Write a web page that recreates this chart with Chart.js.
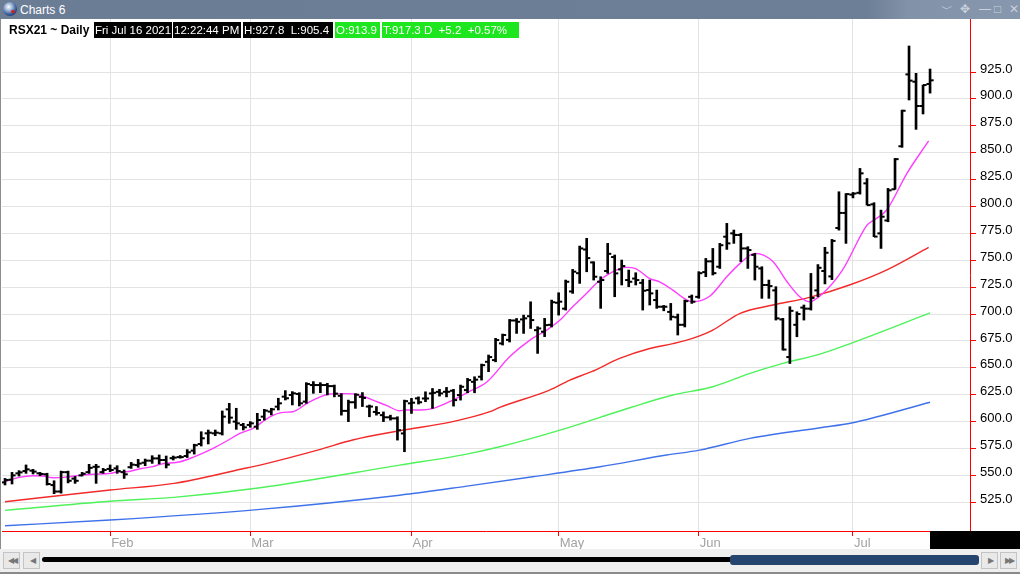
<!DOCTYPE html>
<html><head><meta charset="utf-8">
<script src="https://cdn.jsdelivr.net/npm/chart.js@4.4.1/dist/chart.umd.min.js"></script>
<style>
html,body{margin:0;padding:0;background:#fff;}
body{width:1020px;height:574px;position:relative;overflow:hidden;font-family:"Liberation Sans",Arial,sans-serif;}
#titlebar{position:absolute;left:0;top:0;width:1020px;height:19px;background:linear-gradient(90deg,#6b7c95 0%,#6d7e97 85%,#8292a8 89%,#8797ad 100%);}
#icon{position:absolute;left:3px;top:2px;width:14px;height:14px;border-radius:50%;background:radial-gradient(circle at 40% 35%,#ffffff 0%,#9bb3d6 30%,#2a4f8c 65%,#1b2a4a 100%);}
#icon:after{content:"";position:absolute;left:8px;top:8px;width:4px;height:3px;background:#d02020;border-radius:2px;}
#ttl{position:absolute;left:20px;top:3px;color:#fff;font-size:12px;line-height:14px;}
.wi{position:absolute;top:2px;color:#c9d1dc;font-size:12px;line-height:14px;}
#wrap{position:absolute;left:2px;top:19px;width:1018px;height:530px;}
#lborder{position:absolute;left:0;top:19px;width:1px;height:555px;background:#8c8c8c;}
.hd{position:absolute;top:22px;height:16px;line-height:16px;font-size:11.5px;white-space:pre;color:#fff;padding-left:1px;box-sizing:border-box;overflow:hidden;}
.blk{background:#000;}
.grn{background:#1ee61e;}
#sym{position:absolute;left:9px;top:22px;height:16px;line-height:16px;font-size:12px;font-weight:bold;color:#000;white-space:pre;}
#blackbox{position:absolute;left:930px;top:531px;width:90px;height:18px;background:#000;}
#sb{position:absolute;left:0;top:549px;width:1020px;height:23px;background:#efefef;}
#sbline{position:absolute;left:0;top:572px;width:1020px;height:2px;background:#8a8a8a;}
.btn{position:absolute;top:552px;width:17px;height:17px;border:1px solid #c4c4c4;background:#e9e9e9;box-sizing:border-box;color:#777;font-size:8px;line-height:15px;text-align:center;letter-spacing:-2px;}
#track{position:absolute;left:42px;top:557px;width:690px;height:5px;background:#000;border-radius:3px;}
#thumb{position:absolute;left:730px;top:555px;width:249px;height:10px;background:#26456e;border-radius:3px;}
</style></head><body>
<div id="titlebar"><div id="icon"></div><div id="ttl">Charts 6</div>
<div class="wi" style="left:941px;">&#xFE40;</div>
<div class="wi" style="left:960px;">&#x2725;</div>
<div class="wi" style="left:979px;">&#x2014;</div>
<div class="wi" style="left:994px;">&#x25A1;</div>
<div class="wi" style="left:1009px;">&#x2715;</div>
</div>
<div id="wrap"><canvas id="c" width="1018" height="530"></canvas></div>
<div id="lborder"></div>
<div id="sym">RSX21 ~ Daily</div>
<div class="hd blk" style="left:94px;width:78px;">Fri Jul 16 2021</div>
<div class="hd blk" style="left:173px;width:68px;">12:22:44 PM</div>
<div class="hd blk" style="left:243px;width:90px;">H:927.8  L:905.4</div>
<div class="hd grn" style="left:335px;width:45px;">O:913.9</div>
<div class="hd grn" style="left:382px;width:137px;">T:917.3 D  +5.2  +0.57%</div>
<div id="blackbox"></div>
<div id="sb"></div>
<div id="sbline"></div>
<div class="btn" style="left:3px;">&#9664;&#9664;</div>
<div class="btn" style="left:23px;">&#9664;</div>
<div id="track"></div>
<div id="thumb"></div>
<div class="btn" style="left:981px;">&#9654;</div>
<div class="btn" style="left:1000px;">&#9654;&#9654;</div>
<script>
// ---- data ----
const monthLabels = ['Feb','Mar','Apr','May','Jun','Jul'];
const monthStartIdx = [15,35,58,79,99,121];
const yTickValues = [525,550,575,600,625,650,675,700,725,750,775,800,825,850,875,900,925];

const opens = [543.5,546,551.9,554,554.4,551.9,551,541,535,553,547,550,553,558,553,556,556.5,553,557.6,559.6,561.8,563.7,565.8,564.3,
566,567,568,573,579.2,589.1,589.1,589.1,611.4,600,596.9,596.9,595.3,604.6,609.3,613.9,623.2,624.8,625.7,618.6,634,634,634,
633,624,610,618,623,614,609,606,604,603,589,617,621.6,621.5,626.2,627.7,627.7,628.7,624.7,629.3,637,641.7,655.6,
657.2,672.7,676,694,695,698,685,683.6,690,710.5,705,721,738,760,748,730,740,753,741.5,731.6,733,729,722.3,
713,706.8,702,697,690,716,716,739,749,744,771.9,775,773.5,761,755,742.4,727,722,695,660,690,706,705,
722,740,735,780,794,811,812.7,821.5,802,775,787,816,856,922.8,916,893.4,913.9];
const highs = [547.2,552.8,554.4,559.7,555.6,552.8,552,545,554,554,549,552.8,560.3,560.3,556.5,559.7,559,555,562.1,564.9,565.2,568.3,569,568,
568,568.5,574,579,590.6,592.2,592.2,609.9,617,612.4,598.4,600,607.7,611.4,612.4,621.7,628.8,627.9,626.9,636.2,637.2,636.2,635.6,
634,626,620,626,627,615.4,614,609,606,604.5,620,621.6,623,627.7,630.8,630,631.8,630,634,640.2,641.7,653.5,661.9,
677.4,681.4,695,695.9,699,711.4,688.2,696,713,719.8,731.6,741.5,763.2,770.4,748.6,734.7,765.7,754.9,750.2,740.9,738.4,732.2,731.6,
722.3,708,709.9,700,713,717.7,739.4,751.7,761,765.7,784.3,778.1,775,762.6,756.4,744,731.6,725.4,696,706.8,702.1,708.4,737.8,
746,762,769.4,813.7,812,813,835.4,826,803.5,796.6,816.8,844.7,889.6,949.2,923.8,912.9,927.8];
const lows = [541.1,542,549.4,551.9,551.3,549.7,541,533,533.5,543,542.6,549.4,551.9,542.6,551.9,553.5,551.9,547.2,556.5,557.5,559,561.2,560.6,556.9,
564.3,566,566.6,569.8,577.3,579.2,586.9,587.5,598.4,592.8,592.2,594.7,592.8,601.5,606.2,610.8,620.1,615.5,614.5,617,626.3,626.9,624.8,
623,606,600,612.3,614,604.5,606,600,601.4,582.8,572,607.6,616.3,618.5,612.3,623.7,623,614.4,620,626.8,626.8,638.6,646.4,
655.6,671.2,674,682,682,686.6,663.4,679,688,699,703.7,719.2,728.5,739.3,731.6,705.3,737.8,716.1,727,725.4,727,703.7,708.4,
705.3,703,694.4,680.5,688,709.9,714.6,734.7,736.3,742.4,760.1,765.7,748.7,742.4,731.6,714.6,714.6,694.4,666.5,654,678.9,694.4,703.7,
716,728,732,778,765.7,808,811.5,801.3,771.9,761,785.8,815.9,855,899,871.7,886,905.4];
const closes = [545.7,550,552.8,555.6,553.5,551.3,542,535,553,545,545,551.5,557,558,555,555,554,551,560,561,563.7,565.8,564.3,560,
566.5,567,571.5,578,584.5,589.7,589.7,604.6,603.7,598.4,594.7,598.4,601.5,610.2,611.4,617,621.7,626.3,617,635,634,634,633,
626,610,618,625,622,614,608,604,603,592,619,617.6,618,621.5,626.8,626.2,627.7,620,632.4,638.6,639,652.5,660,
675.8,680.5,694,692.8,696,694.4,686.6,689.7,711,711.5,730,739.4,761,752,734.7,731.6,756,737.8,744.6,730,731.6,721.7,719.2,
706.8,706.8,697.5,690,712,711.5,738,749,738,764,765.7,773.5,761,759.5,744,727,726,696,667,703,700,705,715,
743,757,768,794,811.5,812,830.8,801.3,772,790.5,815,844,889,917,893.4,912.9,917.3];

// moving-average lines: [bar index, value] readings
const maShort = [[0,544.1],[2,548.2],[4,549.7],[5.4,549.4],[6.9,547.8],[8.3,548.2],[10.7,550],[12.6,551],[15,551.9],[16,553.1],[17.4,553.4],[19.3,556.2],[21.1,558.1],[22.1,560.3],[25,562.7],[26.8,566.8],[29.7,575.2],[31.7,582.2],[33.5,589.1],[35.4,593.7],[37.8,604.5],[39.7,608.6],[41.1,609.2],[43.1,617],[44.5,621.6],[46.4,625.6],[48.5,626],[50.6,624.7],[52.5,620],[54.5,614.8],[56.3,610.1],[57.3,610.8],[59.2,610.8],[61.1,612.3],[63.9,620],[65.9,626.8],[68.8,637.1],[72,660.3],[74.9,675.8],[77.3,685.1],[79.2,694.4],[81,706.8],[83,719.3],[84.9,731.6],[86.7,739.3],[88.7,743.4],[89.9,742.5],[92,733],[93.4,730],[95.3,722.3],[96.7,715.5],[98.1,711.5],[100.6,716.8],[103,734.7],[104.9,747.1],[107,756.4],[109.6,748.7],[111.6,730],[113.4,716.1],[114.8,711.5],[116.5,718],[119.5,740.9],[123,782.7],[123.4,784.9],[125.8,796.7],[128.7,830.8],[131.8,860.9]];
const maMid = [[0,525.5],[15,536.4],[24.1,542.6],[33.8,555.9],[36.4,559.6],[45,574.2],[49.6,582.9],[56.3,591.5],[63.9,600],[69.2,609.2],[70.6,613.2],[77.7,629.3],[80.6,638.6],[83.7,646.4],[87.7,658.8],[92,668],[95.3,672.5],[98.1,677.4],[101,685.1],[104.9,700.7],[109.6,708.4],[114.8,715.5],[120.5,727],[126,741.6],[131.8,762]];
const maLong = [[0,517.5],[15,526],[24.1,529.6],[36.4,538.5],[56.3,559.5],[65.9,569.8],[70.6,576.6],[79.2,592.1],[84.9,603.9],[89.6,613.8],[95.3,624.7],[101,632.4],[106.3,644.8],[111,654.1],[116.3,662.8],[120.8,673],[132,701]];
const maSlow = [[0,503.2],[15,508.5],[36.4,518.4],[56.3,531.6],[65.9,540],[75.3,548.7],[84.9,558],[94.4,568.9],[99.1,573.5],[106.3,584.4],[116.3,594.3],[120.8,598.7],[132,618]];

// ---- chart ----
const toPts = arr => arr.map(p => ({x: p[0], y: p[1]}));
const tickDs = (vals, rot) => ({
  type: 'line', showLine: false,
  data: vals.map((v, i) => ({x: i, y: v})),
  pointStyle: 'dash', pointRotation: rot, pointRadius: 3.6, pointHoverRadius: 3.6,
  pointBorderWidth: 2, pointBorderColor: '#000', pointBackgroundColor: '#000', borderColor: '#000'
});
const maDs = (arr, col) => ({
  type: 'line', data: toPts(arr), borderColor: col, borderWidth: 1.4,
  pointRadius: 0, pointHoverRadius: 0, cubicInterpolationMode: 'monotone', fill: false
});

new Chart(document.getElementById('c'), {
  data: {
    datasets: [
      {type: 'bar', data: highs.map((h, i) => ({x: i, y: [lows[i], h]})), backgroundColor: '#000', borderWidth: 0, barThickness: 2},
      tickDs(opens, 180),
      tickDs(closes, 0),
      maDs(maShort, '#ff3cff'),
      maDs(maMid, '#f22a2a'),
      maDs(maLong, '#4ef25a'),
      maDs(maSlow, '#3f72ea')
    ]
  },
  options: {
    responsive: false, animation: false, events: [],
    layout: {padding: 0, autoPadding: false},
    plugins: {legend: {display: false}, tooltip: {enabled: false}},
    scales: {
      x: {
        type: 'linear', position: 'bottom', min: -0.43, max: 137.7, offset: false,
        grid: {color: '#e3e3e3', tickColor: '#ff0000', tickLength: 5, lineWidth: 1, offset: false},
        border: {color: '#ff0000', width: 1},
        ticks: {
          color: '#a3a3a3', font: {family: 'Liberation Sans', size: 13}, align: 'start', padding: 0,
          autoSkip: false, maxRotation: 0, labelOffset: 1,
          callback: v => { const k = monthStartIdx.indexOf(v); return k >= 0 ? monthLabels[k] : ''; }
        },
        afterBuildTicks: s => { s.ticks = monthStartIdx.map(v => ({value: v})); },
        afterFit: s => { s.height = 18; s.paddingLeft = 0; s.paddingRight = 0; }
      },
      y: {
        type: 'linear', position: 'right', min: 498.3, max: 974.3,
        grid: {color: '#e3e3e3', tickColor: '#ff0000', tickLength: 6, lineWidth: 1},
        border: {color: '#ff0000', width: 1},
        ticks: {
          color: '#000', font: {family: 'Liberation Sans', size: 13}, padding: 4, labelOffset: -3,
          callback: v => Number(v).toFixed(1)
        },
        afterBuildTicks: s => { s.ticks = yTickValues.map(v => ({value: v})); },
        afterFit: s => { s.width = 50; s.paddingTop = 0; s.paddingBottom = 0; }
      }
    }
  }
});
</script>
</body></html>
